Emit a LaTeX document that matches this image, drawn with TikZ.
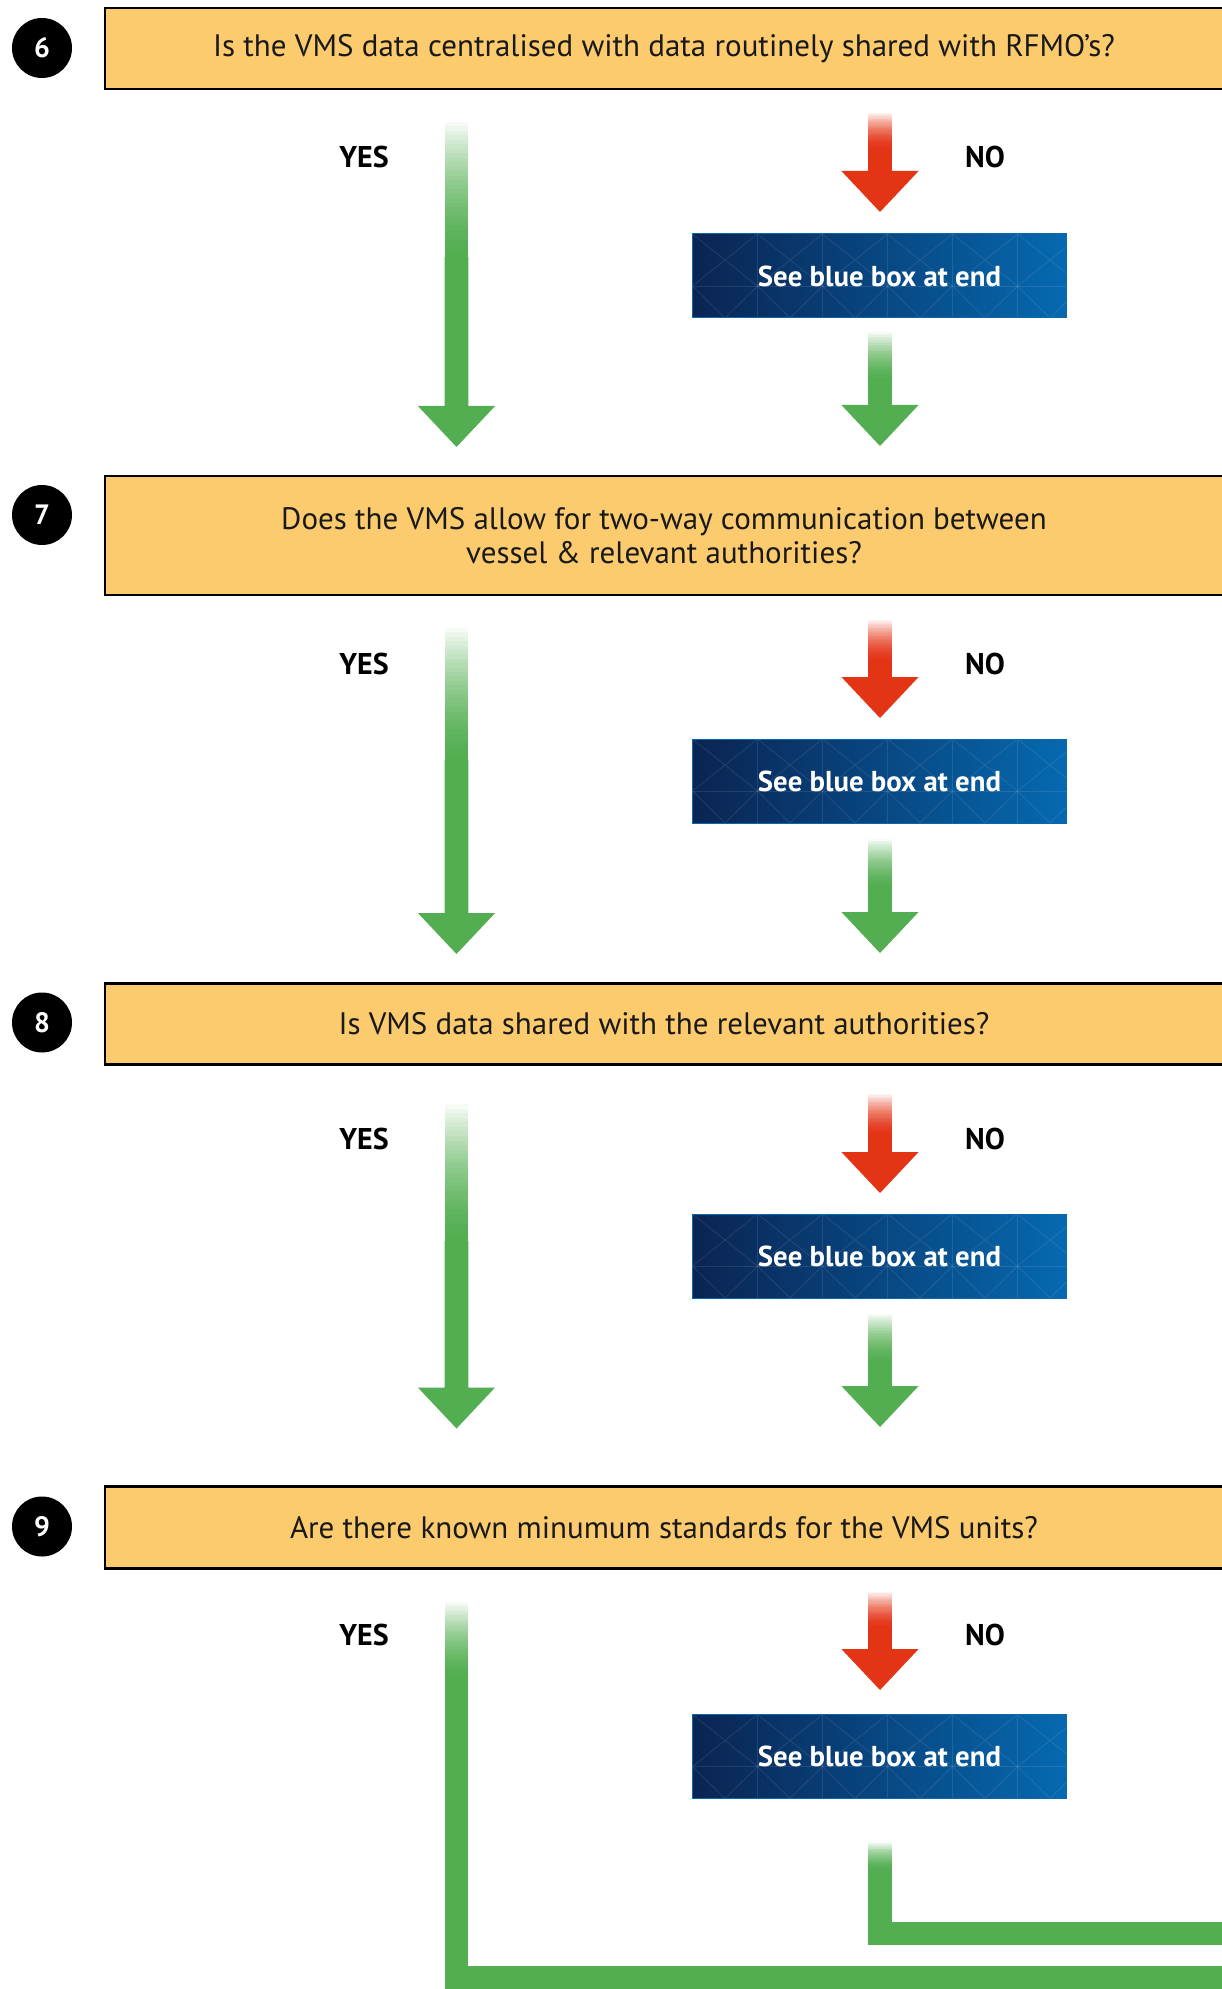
\documentclass[tikz,border=0pt]{standalone}
\usepackage{fontspec}
\setmainfont{PT Sans}
\usepackage{tikz}
\usetikzlibrary{calc}

\definecolor{qyellow}{HTML}{FCCB6E}
\definecolor{ygreen}{HTML}{52AE50}
\definecolor{nred}{HTML}{E43416}
\definecolor{bdark}{HTML}{0A2452}
\definecolor{blight}{HTML}{0669B0}

\tikzset{
    num/.style={circle, fill=black, text=white, minimum size=30pt, inner sep=0pt, font=\bfseries\fontsize{14}{14}\selectfont},
    question/.style={draw=black, line width=1.3pt, fill=qyellow, minimum width=559pt, align=center, text=black!90, font=\fontsize{15.5}{17}\selectfont},
    answer/.style={font=\bfseries\fontsize{15}{15}\selectfont},
    bluebox/.style={minimum width=187pt, minimum height=42pt, left color=bdark, right color=blight, draw=blight, line width=0.5pt,
        text=white, font=\bfseries\fontsize{14.4}{14.4}\selectfont,
        path picture={
            \coordinate (pp) at (path picture bounding box.north west);
            \foreach \c in {0,...,5} {
                \draw[white, opacity=0.1, line width=0.4pt] ([xshift=\c*32.5pt]pp) -- ++(0pt,-42pt)
                    ([xshift=\c*32.5pt]pp) -- ++(32.5pt,-26pt) ++(-32.5pt,0pt) -- ++(32.5pt,26pt)
                    ([xshift=\c*32.5pt, yshift=-26pt]pp) -- ++(16.25pt,-16pt) -- ++(16.25pt,16pt);
            }
            \draw[white, opacity=0.1, line width=0.4pt] ([yshift=-26pt]pp) -- ++(187pt,0pt);
        }},
    bar/.style={ygreen, line width=11.8pt, line join=miter},
}

% faded top of a bar: colour, start, length of the faded part
\newcommand{\fadebar}[3]{%
    \foreach \k in {0,...,29} {
        \pgfmathtruncatemacro{\pct}{100*((\k+1)/30)*(1.7-0.7*(\k+1)/30)}
        \fill[#1!\pct!white] let \p1=(#2) in
            (\x1-5.9pt,\y1-\k*#3/60*1pt) rectangle (\x1+5.9pt,\y1-\k*#3/60*1pt-#3/60*1pt-0.3pt);
    }
}
% block arrow: colour, start, tip, length of the faded part
\newcommand{\blockarrow}[4]{%
    \fadebar{#1}{#2}{#4}
    \fill[#1] let \p1=(#2), \p2=(#3) in
        (\x1-5.9pt,\y1-#4*0.5pt) -- (\x1-5.9pt,\y2+20.5pt) -- (\x1-19.3pt,\y2+20.5pt) -- (\x2,\y2)
        -- (\x1+19.3pt,\y2+20.5pt) -- (\x1+5.9pt,\y2+20.5pt) -- (\x1+5.9pt,\y1-#4*0.5pt) -- cycle;
}

\begin{document}
\begin{tikzpicture}[x=0.5pt, y=-0.5pt]
    \useasboundingbox (0,0) rectangle (1221,1989);

    \node(n6) [num] at (42, 48) {6};
    \node(q6) [question, minimum height=40.5pt] at (664, 48.5) {Is the VMS data centralised with data routinely shared with RFMO’s?};
    \node(yes6) [answer] at (364, 157) {YES};
    \node(no6) [answer] at (985, 157) {NO};
    \node(b6) [bluebox] at (879.5, 276) {See blue box at end};
    \coordinate (g6a) at (456.5, 122);
    \coordinate (g6b) at (456.5, 447);
    \coordinate (r6a) at (880, 113);
    \coordinate (r6b) at (880, 212);
    \coordinate (h6a) at (880, 332);
    \coordinate (h6b) at (880, 446);
    \blockarrow{ygreen}{g6a}{g6b}{135}
    \blockarrow{nred}{r6a}{r6b}{35}
    \blockarrow{ygreen}{h6a}{h6b}{48}

    \node(n7) [num] at (42, 515) {7};
    \node(q7) [question, minimum height=59.5pt] at (664, 535.5) {Does the VMS allow for two-way communication between\\vessel \& relevant authorities?};
    \node(yes7) [answer] at (364, 664) {YES};
    \node(no7) [answer] at (985, 664) {NO};
    \node(b7) [bluebox] at (879.5, 781) {See blue box at end};
    \coordinate (g7a) at (456.5, 628);
    \coordinate (g7b) at (456.5, 954);
    \coordinate (r7a) at (880, 620);
    \coordinate (r7b) at (880, 718);
    \coordinate (h7a) at (880, 839);
    \coordinate (h7b) at (880, 953);
    \blockarrow{ygreen}{g7a}{g7b}{132}
    \blockarrow{nred}{r7a}{r7b}{40}
    \blockarrow{ygreen}{h7a}{h7b}{48}

    \node(n8) [num] at (42, 1022.5) {8};
    \node(q8) [question, minimum height=40.5pt] at (664, 1024) {Is VMS data shared with the relevant authorities?};
    \node(yes8) [answer] at (364, 1138.5) {YES};
    \node(no8) [answer] at (985, 1138.5) {NO};
    \node(b8) [bluebox] at (879.5, 1256) {See blue box at end};
    \coordinate (g8a) at (456.5, 1104);
    \coordinate (g8b) at (456.5, 1428.5);
    \coordinate (r8a) at (880, 1094);
    \coordinate (r8b) at (880, 1193);
    \coordinate (h8a) at (880, 1314);
    \coordinate (h8b) at (880, 1427);
    \blockarrow{ygreen}{g8a}{g8b}{137}
    \blockarrow{nred}{r8a}{r8b}{40}
    \blockarrow{ygreen}{h8a}{h8b}{47}

    \node(n9) [num] at (42, 1526.5) {9};
    \node(q9) [question, minimum height=41pt] at (664, 1527.5) {Are there known minumum standards for the VMS units?};
    \node(yes9) [answer] at (364, 1635) {YES};
    \node(no9) [answer] at (985, 1635) {NO};
    \node(b9) [bluebox] at (879.5, 1756.5) {See blue box at end};
    \coordinate (r9a) at (880, 1592);
    \coordinate (r9b) at (880, 1690);
    \blockarrow{nred}{r9a}{r9b}{35}
    \coordinate (l9s) at (456.5, 1602);
    \coordinate (l9a) at (456.5, 1676.5);
    \coordinate (l9b) at (1240, 1978);
    \coordinate (m9s) at (880, 1842);
    \coordinate (m9a) at (880, 1869.5);
    \coordinate (m9b) at (1240, 1933.5);
    \fadebar{ygreen}{l9s}{75}
    \fadebar{ygreen}{m9s}{28}
    \draw[bar] (l9a) |- (l9b);
    \draw[bar] (m9a) |- (m9b);
\end{tikzpicture}
\end{document}
